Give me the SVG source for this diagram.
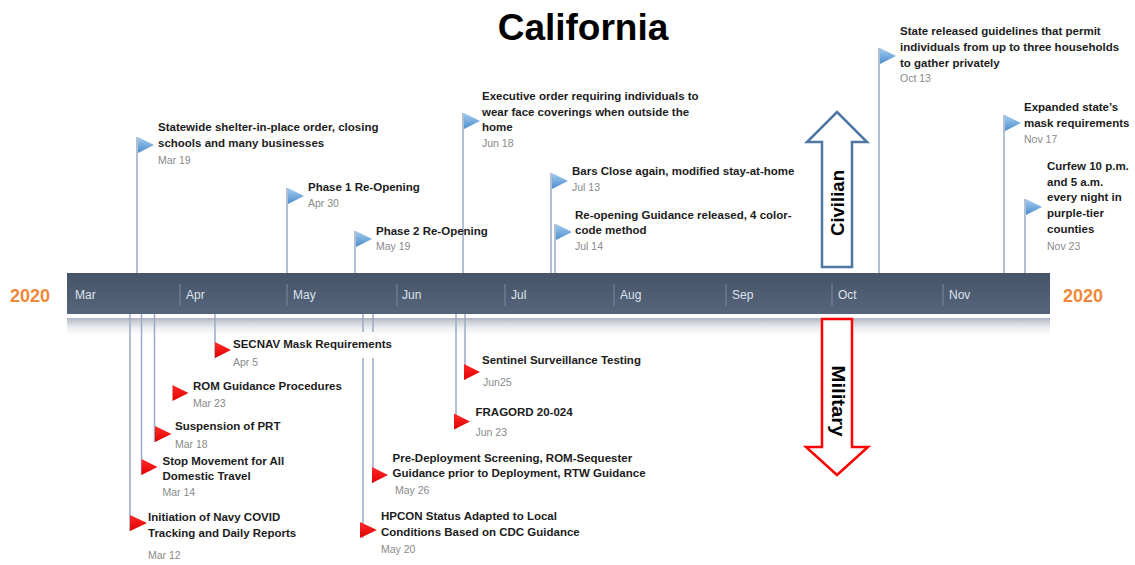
<svg xmlns="http://www.w3.org/2000/svg" width="1135" height="565" viewBox="0 0 1135 565">
<style>
.t{font-family:"Liberation Sans",Arial,sans-serif;font-weight:bold;font-size:11.5px;fill:#1c1c1c}
.d{font-family:"Liberation Sans",Arial,sans-serif;font-size:10.5px;fill:#8a8a8a}
.m{font-family:"Liberation Sans",Arial,sans-serif;font-size:12px;fill:#dde3ec}
.y{font-family:"Liberation Sans",Arial,sans-serif;font-weight:bold;font-size:18px;fill:#f0873a}
.pole{stroke:#9aabc5;stroke-width:1.5;fill:none}
.tick{stroke:#7d8aa0;stroke-width:1}
.bf{fill:url(#blueFlag)}
.rf{fill:url(#redFlag)}
.big{font-family:"Liberation Sans",Arial,sans-serif;font-weight:bold;font-size:18px;fill:#000}
</style>
<defs>
<linearGradient id="blueFlag" x1="0" y1="0" x2="0" y2="1">
<stop offset="0" stop-color="#a6cdf0"/><stop offset="1" stop-color="#4a8dcc"/>
</linearGradient>
<linearGradient id="redFlag" x1="0" y1="0" x2="0" y2="1">
<stop offset="0" stop-color="#ff2a2a"/><stop offset="1" stop-color="#e00000"/>
</linearGradient>
<linearGradient id="bar" x1="0" y1="0" x2="0" y2="1">
<stop offset="0" stop-color="#465469"/><stop offset="1" stop-color="#56657b"/>
</linearGradient>
<linearGradient id="refl" x1="0" y1="0" x2="0" y2="1">
<stop offset="0" stop-color="#aeb5c0"/><stop offset="1" stop-color="#ffffff" stop-opacity="0"/>
</linearGradient>
</defs>
<rect width="1135" height="565" fill="#ffffff"/>
<text x="583" y="40" text-anchor="middle" font-family="'Liberation Sans',Arial,sans-serif" font-weight="bold" font-size="37" fill="#000">California</text>

<g id="timeline">
<rect x="67" y="318" width="983" height="20" fill="url(#refl)"/>
<rect x="67" y="273" width="983" height="41" fill="url(#bar)"/>
<line class="tick" x1="180" y1="284" x2="180" y2="306"/>
<line class="tick" x1="287" y1="284" x2="287" y2="306"/>
<line class="tick" x1="397" y1="284" x2="397" y2="306"/>
<line class="tick" x1="505" y1="284" x2="505" y2="306"/>
<line class="tick" x1="614" y1="284" x2="614" y2="306"/>
<line class="tick" x1="726" y1="284" x2="726" y2="306"/>
<line class="tick" x1="832" y1="284" x2="832" y2="306"/>
<line class="tick" x1="943" y1="284" x2="943" y2="306"/>
<text class="m" x="75" y="299">Mar</text>
<text class="m" x="186" y="299">Apr</text>
<text class="m" x="293" y="299">May</text>
<text class="m" x="402" y="299">Jun</text>
<text class="m" x="511" y="299">Jul</text>
<text class="m" x="620" y="299">Aug</text>
<text class="m" x="732" y="299">Sep</text>
<text class="m" x="838" y="299">Oct</text>
<text class="m" x="949" y="299">Nov</text>
<text class="y" x="10" y="301.5">2020</text>
<text class="y" x="1063" y="301.5">2020</text>
</g>

<g id="connectors">
<line class="pole" x1="137" y1="137" x2="137" y2="273"/>
<line class="pole" x1="287" y1="188" x2="287" y2="273"/>
<line class="pole" x1="355" y1="231" x2="355" y2="273"/>
<line class="pole" x1="463" y1="113" x2="463" y2="273"/>
<line class="pole" x1="551" y1="173" x2="551" y2="273"/>
<line class="pole" x1="555" y1="224" x2="555" y2="273"/>
<line class="pole" x1="879" y1="48" x2="879" y2="273"/>
<line class="pole" x1="1004" y1="115" x2="1004" y2="273"/>
<line class="pole" x1="1025" y1="199" x2="1025" y2="273"/>
<line class="pole" x1="130" y1="314" x2="130" y2="531"/>
<line class="pole" x1="141.5" y1="314" x2="141.5" y2="475"/>
<line class="pole" x1="154.5" y1="314" x2="154.5" y2="442"/>
<line class="pole" x1="215" y1="314" x2="215" y2="358"/>
<line class="pole" x1="363" y1="314" x2="363" y2="332"/>
<line class="pole" x1="363" y1="358" x2="363" y2="538"/>
<line class="pole" x1="373" y1="314" x2="373" y2="332"/>
<line class="pole" x1="373" y1="358" x2="373" y2="483"/>
<line class="pole" x1="456" y1="314" x2="456" y2="429"/>
<line class="pole" x1="465" y1="314" x2="465" y2="380"/>
</g>

<g id="civilian-arrow">
<path d="M837,112 L867,142 L852,142 L852,267 L822,267 L822,142 L807,142 Z" fill="#fff" stroke="#4e77a3" stroke-width="2.5" stroke-linejoin="miter"/>
<text class="big" transform="translate(837,203) rotate(-90)" x="0" y="7" text-anchor="middle" textLength="66" lengthAdjust="spacingAndGlyphs">Civilian</text>
</g>
<g id="military-arrow">
<path d="M822,319 L852,319 L852,447 L868,447 L837,475 L806,447 L822,447 Z" fill="#fff" stroke="#ff0000" stroke-width="2.5" stroke-linejoin="miter"/>
<text class="big" transform="translate(837,401) rotate(90)" x="0" y="5" text-anchor="middle" textLength="71" lengthAdjust="spacingAndGlyphs">Military</text>
</g>

<g id="ev-mar19"><polygon class="bf" points="138,137 154,145 138,153"/>
<text class="t" x="158" y="131">Statewide shelter-in-place order, closing</text>
<text class="t" x="158" y="147">schools and many businesses</text>
<text class="d" x="158" y="163.5">Mar 19</text></g>
<g id="ev-apr30"><polygon class="bf" points="288,188 304,196 288,204"/>
<text class="t" x="308" y="191">Phase 1 Re-Opening</text>
<text class="d" x="308" y="207">Apr 30</text></g>
<g id="ev-may19"><polygon class="bf" points="356,231 372,239 356,247"/>
<text class="t" x="376" y="234.5">Phase 2 Re-Opening</text>
<text class="d" x="376" y="250">May 19</text></g>
<g id="ev-jun18"><polygon class="bf" points="464,113 480,121 464,129"/>
<text class="t" x="482" y="99.5">Executive order requiring individuals to</text>
<text class="t" x="482" y="115.5">wear face coverings when outside the</text>
<text class="t" x="482" y="131">home</text>
<text class="d" x="482" y="147">Jun 18</text></g>
<g id="ev-jul13"><polygon class="bf" points="552,173 568,181 552,189"/>
<text class="t" x="572" y="174.5">Bars Close again, modified stay-at-home</text>
<text class="d" x="572" y="191">Jul 13</text></g>
<g id="ev-jul14"><polygon class="bf" points="556,224 572,232 556,240"/>
<text class="t" x="575" y="219">Re-opening Guidance released, 4 color-</text>
<text class="t" x="575" y="234">code method</text>
<text class="d" x="575" y="249.5">Jul 14</text></g>
<g id="ev-oct13"><polygon class="bf" points="880,48 896,56 880,64"/>
<text class="t" x="900" y="34.5">State released guidelines that permit</text>
<text class="t" x="900" y="50.5">individuals from up to three households</text>
<text class="t" x="900" y="66.5">to gather privately</text>
<text class="d" x="900" y="82">Oct 13</text></g>
<g id="ev-nov17"><polygon class="bf" points="1005,115 1021,123 1005,131"/>
<text class="t" x="1024" y="110.5">Expanded state’s</text>
<text class="t" x="1024" y="126.5">mask requirements</text>
<text class="d" x="1024" y="142.5">Nov 17</text></g>
<g id="ev-nov23"><polygon class="bf" points="1026,199 1042,207 1026,215"/>
<text class="t" x="1047" y="170">Curfew 10 p.m.</text>
<text class="t" x="1047" y="185.5">and 5 a.m.</text>
<text class="t" x="1047" y="201">every night in</text>
<text class="t" x="1047" y="217">purple-tier</text>
<text class="t" x="1047" y="233">counties</text>
<text class="d" x="1047" y="250">Nov 23</text></g>

<g id="ev-mar12"><polygon class="rf" points="130,515 147,523 130,531"/>
<text class="t" x="148" y="521">Initiation of Navy COVID</text>
<text class="t" x="148" y="536.5">Tracking and Daily Reports</text>
<text class="d" x="148" y="558.5">Mar 12</text></g>
<g id="ev-mar14"><polygon class="rf" points="141.5,459 157.5,467 141.5,475"/>
<text class="t" x="162.5" y="465">Stop Movement for All</text>
<text class="t" x="162.5" y="480">Domestic Travel</text>
<text class="d" x="162.5" y="496">Mar 14</text></g>
<g id="ev-mar18"><polygon class="rf" points="155,426 171.5,434 155,442"/>
<text class="t" x="175" y="430">Suspension of PRT</text>
<text class="d" x="175" y="447.5">Mar 18</text></g>
<g id="ev-mar23"><polygon class="rf" points="172.5,385 188.5,393 172.5,401"/>
<text class="t" x="193" y="389.5">ROM Guidance Procedures</text>
<text class="d" x="193" y="407">Mar 23</text></g>
<g id="ev-apr5"><polygon class="rf" points="215,342 231,350 215,358"/>
<text class="t" x="233" y="348">SECNAV Mask Requirements</text>
<text class="d" x="233" y="366">Apr 5</text></g>
<g id="ev-may20"><polygon class="rf" points="360,522 377,530 360,538"/>
<text class="t" x="381" y="520">HPCON Status Adapted to Local</text>
<text class="t" x="381" y="535.5">Conditions Based on CDC Guidance</text>
<text class="d" x="381" y="553">May 20</text></g>
<g id="ev-may26"><polygon class="rf" points="372,467 388,475 372,483"/>
<text class="t" x="392.5" y="461.5">Pre-Deployment Screening, ROM-Sequester</text>
<text class="t" x="392.5" y="477">Guidance prior to Deployment, RTW Guidance</text>
<text class="d" x="395" y="493.5">May 26</text></g>
<g id="ev-jun23"><polygon class="rf" points="454,413.5 470,421.5 454,429.5"/>
<text class="t" x="475.5" y="415.5">FRAGORD 20-024</text>
<text class="d" x="475.5" y="436">Jun 23</text></g>
<g id="ev-jun25"><polygon class="rf" points="464,364 480,372 464,380"/>
<text class="t" x="482" y="364">Sentinel Surveillance Testing</text>
<text class="d" x="483" y="385.5">Jun25</text></g>
</svg>
